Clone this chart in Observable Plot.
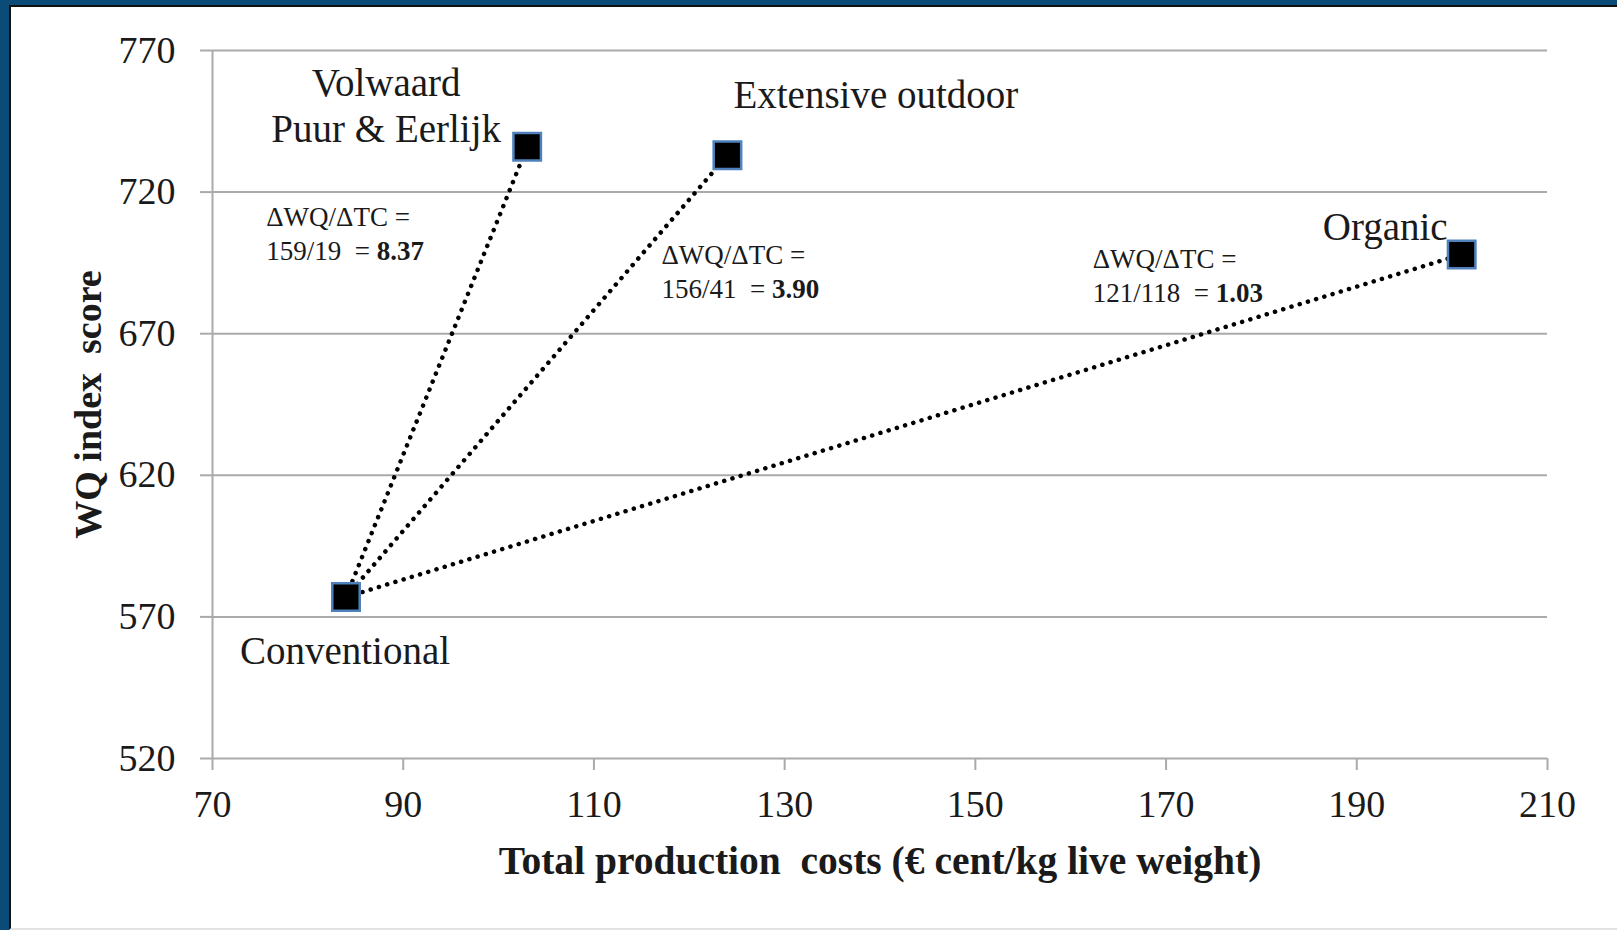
<!DOCTYPE html>
<html>
<head>
<meta charset="utf-8">
<script src="https://cdn.jsdelivr.net/npm/d3@7"></script>
<script src="https://cdn.jsdelivr.net/npm/@observablehq/plot@0.6"></script>
<style>
  html, body { margin: 0; padding: 0; }
  body { width: 1617px; height: 930px; background: #0b4b78; position: relative; overflow: hidden; }
  #panel { position: absolute; left: 9px; top: 5px; right: 0; bottom: 0; background: #fff;
           border-left: 2px solid #111; border-top: 2px solid #111; border-bottom: 2px solid #e2e2e2; box-sizing: border-box; }
  #chart { position: absolute; left: 0; top: 0; }
</style>
</head>
<body>
<div id="panel"></div>
<div id="chart"></div>
<script>
// ---- data ----
const systems = ["Conventional", "Volwaard\nPuur & Eerlijk", "Extensive outdoor", "Organic"];
const costs = [84, 103, 124, 201];            // Total production costs (€ cent/kg live weight)
const wqScores = [577, 736, 733, 698];        // WQ index score
const ratioHeader = "ΔWQ/ΔTC =";
const ratioTexts = ["159/19\u00a0 = ", "156/41\u00a0 = ", "121/118\u00a0 = "];
const ratioValues = ["8.37", "3.90", "1.03"];
const xTicks = [70, 90, 110, 130, 150, 170, 190, 210];
const yTicks = [520, 570, 620, 670, 720, 770];
const xLabel = "Total production  costs (€ cent/kg live weight)";
const yLabel = "WQ index  score";

const points = systems.map((name, i) => ({name, cost: costs[i], wq: wqScores[i]}));
const base = points[0];
const others = points.slice(1);

const gray = "#aaaaaa";
const ink = "#1a1a1a";
const font = "'Liberation Serif', 'Times New Roman', serif";

const ratioMark = (d, i, dx, dy) => Plot.text([d], {
  x: "cost", y: "wq",
  text: () => ratioHeader + "\n" + ratioTexts[i],
  textAnchor: "start", lineAnchor: "middle", lineHeight: 1.26,
  fontSize: 27, fill: ink, dx, dy
});

const chart = Plot.plot({
  width: 1617, height: 930,
  marginLeft: 212, marginRight: 70, marginTop: 50, marginBottom: 172,
  x: {domain: [70, 210]},
  y: {domain: [520, 770]},
  style: {fontFamily: font, fontSize: "38px", color: ink, background: "transparent"},
  marks: [
    Plot.gridY(yTicks, {stroke: gray, strokeOpacity: 1, strokeWidth: 2}),
    Plot.ruleX([70], {stroke: gray, strokeWidth: 2}),
    Plot.axisY(yTicks, {tickSize: 12, tickPadding: 25, stroke: gray, strokeWidth: 2, fill: ink, fontSize: 38, label: null}),
    Plot.axisX(xTicks, {tickSize: 12, tickPadding: 20, stroke: gray, strokeWidth: 2, fill: ink, fontSize: 38, label: null}),
    Plot.link(others, {
      x1: () => base.cost, y1: () => base.wq, x2: "cost", y2: "wq",
      stroke: "#000", strokeWidth: 4.5, strokeDasharray: "0.1 8.5", strokeLinecap: "round"
    }),
    Plot.dot(points, {x: "cost", y: "wq", symbol: "square", r: 15.5, fill: "#000", stroke: "#4f81bd", strokeWidth: 2.5}),
    // point labels
    Plot.text([points[0]], {x: "cost", y: "wq", text: "name", dx: -1, dy: 54, fontSize: 39, fill: ink}),
    Plot.text([points[1]], {x: "cost", y: "wq", text: "name", dx: -141, dy: -43, fontSize: 39, lineHeight: 1.18, fill: ink}),
    Plot.text([points[2]], {x: "cost", y: "wq", text: "name", textAnchor: "start", dx: 6, dy: -60, fontSize: 39, fill: ink}),
    Plot.text([points[3]], {x: "cost", y: "wq", text: "name", textAnchor: "end", dx: -14, dy: -27, fontSize: 39, fill: ink}),
    // slope annotations
    ratioMark(others[0], 0, -261, 85),
    ratioMark(others[1], 1, -66, 115),
    ratioMark(others[2], 2, -369, 20),
    // axis titles
    Plot.text([xLabel], {frameAnchor: "bottom", text: d => d, textAnchor: "middle", lineAnchor: "middle", dy: 103, fontSize: 39.5, fontWeight: "bold", fill: ink}),
    Plot.text([yLabel], {frameAnchor: "left", text: d => d, textAnchor: "middle", lineAnchor: "middle", dx: -124, rotate: -90, fontSize: 38, fontWeight: "bold", fill: ink})
  ]
});

// make the ratio values bold, inline after "a/b = "
d3.select(chart).selectAll("tspan").each(function() {
  const t = this.textContent;
  const i = ratioTexts.findIndex(r => r.trim() === t.trim());
  if (i >= 0) {
    this.textContent = ratioTexts[i];
    d3.select(this).append("tspan").attr("font-weight", "bold").text(ratioValues[i]);
  }
});

document.getElementById("chart").appendChild(chart);
</script>
</body>
</html>
